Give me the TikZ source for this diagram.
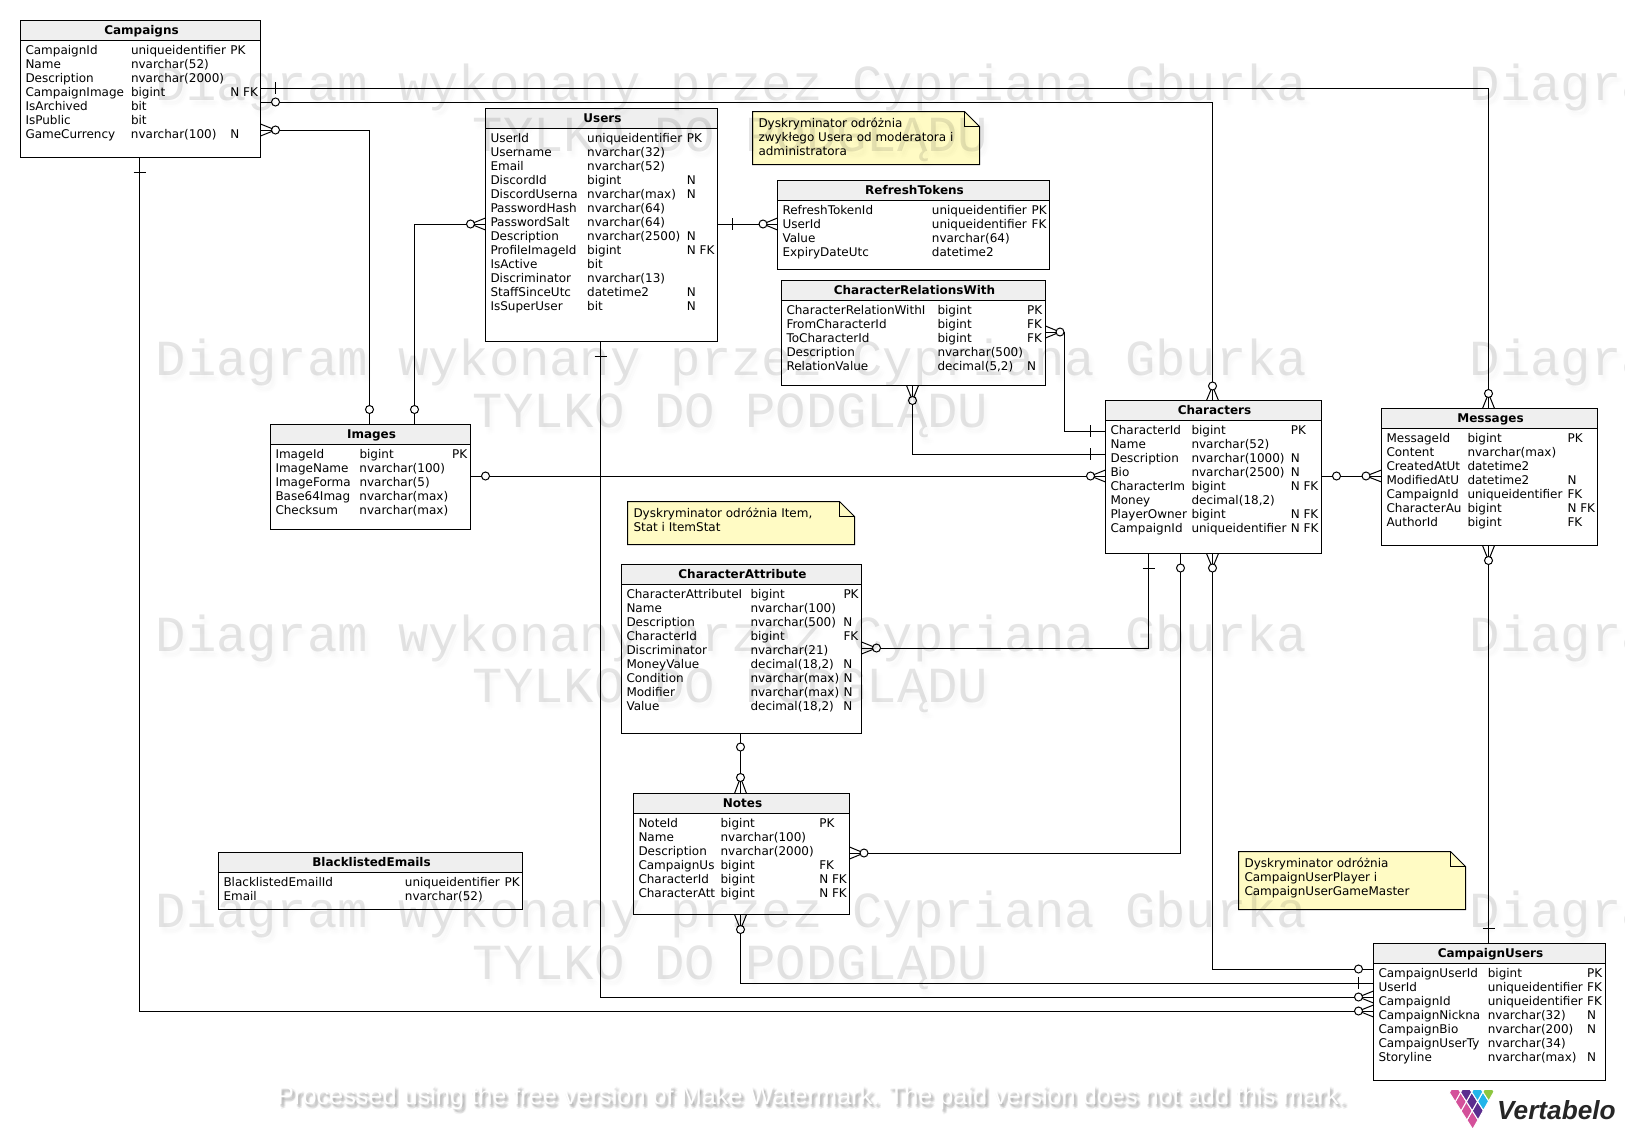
\documentclass[tikz,border=0pt]{standalone}
\usepackage{fontspec}
\usepackage{array}
\setmainfont{DejaVu Sans}
\newfontfamily\wmfont{Liberation Mono}
\newfontfamily\plainfont{Liberation Sans}
\usetikzlibrary{positioning, calc}
\definecolor{headgray}{HTML}{EFEFEF}
\definecolor{noteyellow}{HTML}{FFFBC4}
\definecolor{logopink}{HTML}{D4509A}
\definecolor{logopurple}{HTML}{5B2D8E}
\definecolor{logoblue}{HTML}{23B5EA}
\definecolor{logogreen}{HTML}{8DC63F}
\tikzset{
	tablebox/.style={draw, fill=white, line width=1pt, anchor=north west, outer sep=0pt, inner sep=0pt},
	tablehead/.style={draw, fill=headgray, line width=1pt, anchor=north west, outer sep=0pt, inner sep=0pt, minimum height=20pt, text height=9.5pt, text depth=1.5pt, font=\fontsize{12}{14}\selectfont\bfseries},
	tablerows/.style={anchor=north west, inner sep=0pt, outer sep=0pt, font=\fontsize{12}{14}\selectfont},
	notebox/.style={anchor=north west, inner sep=0pt, outer sep=0pt},
	conn/.style={line width=1pt},
	ringmark/.style={circle, draw, fill=white, line width=1pt, inner sep=0pt, outer sep=0pt, minimum size=8pt},
	wmark/.style={anchor=base west, inner sep=0pt, font=\fontsize{50.5}{56}\wmfont},
	freemark/.style={anchor=base west, inner sep=0pt, font=\fontsize{25.3}{28}\plainfont}
}
% name, left, top, width, height, first column, second column, title, rows
\newcommand{\dbtable}[9]{
	\node[tablebox, minimum width=#4pt, minimum height=#5pt] (#1) at (#2,#3) {};
	\node[tablehead, minimum width=#4pt] (#1head) at (#1.north west) {\hspace{2pt}#8};
	\node[tablerows] (#1rows) at ($(#1.north west)+(5,24.6)$) {\begin{tabular}{@{}p{#6pt}@{}p{#7pt}@{}l@{}}#9\end{tabular}};
}
% name, left, top, width, height, text
\newcommand{\dbnote}[6]{
	\node[notebox, minimum width=#4pt, minimum height=#5pt] (#1) at (#2,#3) {};
	\draw[fill=noteyellow, line width=1pt] (#1.north west) -- ($(#1.north east)+(-15,0)$) -- ($(#1.north east)+(0,15)$) -- (#1.south east) -- (#1.south west) -- cycle;
	\draw[line width=1pt] ($(#1.north east)+(-15,0)$) -- ($(#1.north east)+(-15,15)$) -- ($(#1.north east)+(0,15)$);
	\node[tablerows] (#1text) at ($(#1.north west)+(6,6.6)$) {\begin{tabular}{@{}l@{}}#6\end{tabular}};
}
\begin{document}
\begin{tikzpicture}[x=1pt, y=-1pt]
	\useasboundingbox (0,0) rectangle (1625,1140);

	\dbtable{campaigns}{20.5}{20.5}{240}{137}{105.5}{99.4}{Campaigns}{
		CampaignId & uniqueidentifier & PK\\
		Name & nvarchar(52) & \\
		Description & nvarchar(2000) & \\
		CampaignImage & bigint & N FK\\
		IsArchived & bit & \\
		IsPublic & bit & \\
		GameCurrency & nvarchar(100) & N\\}
	\dbtable{users}{485.5}{108.5}{232}{233}{96.7}{99.7}{Users}{
		UserId & uniqueidentifier & PK\\
		Username & nvarchar(32) & \\
		Email & nvarchar(52) & \\
		DiscordId & bigint & N\\
		DiscordUserna & nvarchar(max) & N\\
		PasswordHash & nvarchar(64) & \\
		PasswordSalt & nvarchar(64) & \\
		Description & nvarchar(2500) & N\\
		ProfileImageId & bigint & N FK\\
		IsActive & bit & \\
		Discriminator & nvarchar(13) & \\
		StaffSinceUtc & datetime2 & N\\
		IsSuperUser & bit & N\\}
	\dbtable{refresh}{777.5}{180.5}{272}{89}{149.4}{99.7}{RefreshTokens}{
		RefreshTokenId & uniqueidentifier & PK\\
		UserId & uniqueidentifier & FK\\
		Value & nvarchar(64) & \\
		ExpiryDateUtc & datetime2 & \\}
	\dbtable{relations}{781.5}{280.5}{264}{105}{151}{89.7}{CharacterRelationsWith}{
		CharacterRelationWithI & bigint & PK\\
		FromCharacterId & bigint & FK\\
		ToCharacterId & bigint & FK\\
		Description & nvarchar(500) & \\
		RelationValue & decimal(5,2) & N\\}
	\dbtable{images}{270.5}{424.5}{200}{105}{84}{92.7}{Images}{
		ImageId & bigint & PK\\
		ImageName & nvarchar(100) & \\
		ImageForma & nvarchar(5) & \\
		Base64Imag & nvarchar(max) & \\
		Checksum & nvarchar(max) & \\}
	\dbtable{characters}{1105.5}{400.5}{216}{153}{81}{99.3}{Characters}{
		CharacterId & bigint & PK\\
		Name & nvarchar(52) & \\
		Description & nvarchar(1000) & N\\
		Bio & nvarchar(2500) & N\\
		CharacterIm & bigint & N FK\\
		Money & decimal(18,2) & \\
		PlayerOwner & bigint & N FK\\
		CampaignId & uniqueidentifier & N FK\\}
	\dbtable{messages}{1381.5}{408.5}{216}{137}{81}{100}{Messages}{
		MessageId & bigint & PK\\
		Content & nvarchar(max) & \\
		CreatedAtUt & datetime2 & \\
		ModifiedAtU & datetime2 & N\\
		CampaignId & uniqueidentifier & FK\\
		CharacterAu & bigint & N FK\\
		AuthorId & bigint & FK\\}
	\dbtable{attribute}{621.5}{564.5}{240}{169}{124}{93}{CharacterAttribute}{
		CharacterAttributeI & bigint & PK\\
		Name & nvarchar(100) & \\
		Description & nvarchar(500) & N\\
		CharacterId & bigint & FK\\
		Discriminator & nvarchar(21) & \\
		MoneyValue & decimal(18,2) & N\\
		Condition & nvarchar(max) & N\\
		Modifier & nvarchar(max) & N\\
		Value & decimal(18,2) & N\\}
	\dbtable{notes}{633.5}{793.5}{216}{121}{82.1}{98.7}{Notes}{
		NoteId & bigint & PK\\
		Name & nvarchar(100) & \\
		Description & nvarchar(2000) & \\
		CampaignUs & bigint & FK\\
		CharacterId & bigint & N FK\\
		CharacterAtt & bigint & N FK\\}
	\dbtable{blacklisted}{218.5}{852.5}{304}{57}{181.4}{99.6}{BlacklistedEmails}{
		BlacklistedEmailId & uniqueidentifier & PK\\
		Email & nvarchar(52) & \\}
	\dbtable{campaignusers}{1373.5}{943.5}{232}{137}{109.3}{99.4}{CampaignUsers}{
		CampaignUserId & bigint & PK\\
		UserId & uniqueidentifier & FK\\
		CampaignId & uniqueidentifier & FK\\
		CampaignNickna & nvarchar(32) & N\\
		CampaignBio & nvarchar(200) & N\\
		CampaignUserTy & nvarchar(34) & \\
		Storyline & nvarchar(max) & N\\}

	\dbnote{noteusers}{752.5}{111.5}{227}{53}{Dyskryminator odróżnia\\zwykłego Usera od moderatora i\\administratora}
	\dbnote{noteitems}{627.5}{501.5}{227}{43}{Dyskryminator odróżnia Item,\\Stat i ItemStat}
	\dbnote{noteplayers}{1238.5}{851.5}{227}{58}{Dyskryminator odróżnia\\CampaignUserPlayer i\\CampaignUserGameMaster}

	% connectors
	\draw[conn] (campaigns.east |- 0,88) -| (1488.5,0 |- messages.north);
	\draw[conn] (campaigns.east |- 0,102) -| (1212.5,0 |- characters.north);
	\draw[conn] (campaigns.east |- 0,130) -| (369.5,0 |- images.north);
	\draw[conn] (users.west |- 0,224) -| (414.5,0 |- images.north);
	\draw[conn] (users.east |- 0,224) -- (refresh.west |- 0,224);
	\draw[conn] (relations.east |- 0,332) -| (1064.5,431) -- (characters.west |- 0,431);
	\draw[conn] (912.5,0 |- relations.south) |- (characters.west |- 0,454);
	\draw[conn] (images.east |- 0,476) -- (characters.west |- 0,476);
	\draw[conn] (characters.east |- 0,476) -- (messages.west |- 0,476);
	\draw[conn] (1148.5,0 |- characters.south) |- (attribute.east |- 0,648);
	\draw[conn] (1180.5,0 |- characters.south) |- (notes.east |- 0,853);
	\draw[conn] (1212.5,0 |- characters.south) |- (campaignusers.west |- 0,969);
	\draw[conn] (1488.5,0 |- messages.south) -- (1488.5,0 |- campaignusers.north);
	\draw[conn] (740.5,0 |- attribute.south) -- (740.5,0 |- notes.north);
	\draw[conn] (740.5,0 |- notes.south) |- (campaignusers.west |- 0,983);
	\draw[conn] (600.5,0 |- users.south) |- (campaignusers.west |- 0,997);
	\draw[conn] (139.5,0 |- campaigns.south) |- (campaignusers.west |- 0,1011);

	% crow's feet
	\foreach \px/\py/\edge in {275.5/130/campaigns.east, 470.5/224/users.west, 763/224/refresh.west, 1060/332/relations.east, 1090.5/476/characters.west, 1366/476/messages.west, 876.5/648/attribute.east, 864/853/notes.east, 1358.5/997/campaignusers.west, 1358.5/1011/campaignusers.west}
		\draw[conn] (\edge |- 0,\py-6) -- (\px,\py) -- (\edge |- 0,\py+6);
	\foreach \px/\py/\edge in {912.5/400.5/relations.south, 1212.5/386/characters.north, 1488.5/393.5/messages.north, 1212.5/568/characters.south, 1488.5/560.5/messages.south, 740.5/777.5/notes.north, 740.5/929.5/notes.south}
		\draw[conn] (\px-6,0 |- \edge) -- (\px,\py) -- (\px+6,0 |- \edge);

	% rings
	\foreach \px/\py [count=\i] in {275.5/102, 275.5/130, 369.5/409.5, 414.5/409.5, 470.5/224, 763/224, 1060/332, 912.5/400.5, 1212.5/386, 1488.5/393.5, 485.5/476, 1090.5/476, 1336.5/476, 1366/476, 1180.5/568, 1212.5/568, 1488.5/560.5, 876.5/648, 740.5/747, 740.5/777.5, 864/853, 740.5/929.5, 1358.5/969, 1358.5/997, 1358.5/1011}
		\node[ringmark] (ring\i) at (\px,\py) {};

	% ticks
	\foreach \px/\py in {275.5/88, 732.5/224, 1090.5/431, 1090.5/454, 1358.5/983}
		\draw[conn] (\px,\py-6) -- (\px,\py+6);
	\foreach \px/\py in {139.5/172.5, 600.5/356.5, 1148.5/568, 1488.5/928.5}
		\draw[conn] (\px-6,\py) -- (\px+6,\py);

	% logo
	\begin{scope}
		\clip (1449,1090) rectangle (1495,1130);
		\begin{scope}[shift={(1472.7,1129.3)}, x={(-5.83pt,9.17pt)}, y={(5.33pt,9.42pt)}]
			\foreach \ci/\cj/\col in {0/0/logopink, 1/0/logopink, 2/0/logopink, 3/0/logopink, 0/1/logopurple, 1/1/logopurple, 2/1/logopurple, 0/2/logoblue, 1/2/logoblue, 0/3/logogreen}
				\draw[fill=\col, draw=white, line width=1pt] (\ci,\cj) -- (\ci+1,\cj) -- (\ci+1,\cj+1) -- (\ci,\cj+1) -- cycle;
		\end{scope}
	\end{scope}
	\node[anchor=base west, inner sep=0pt, text=black!85, font=\fontsize{26.2}{30}\plainfont\bfseries\itshape] (logotext) at (1497,1119.5) {Vertabelo};

	% watermarks
	\begin{scope}
		\clip (0,0) rectangle (1625,1140);
		\foreach \ypos [count=\i] in {100, 375.5, 651.3, 927.6} {
			\foreach \dx/\dy [count=\j] in {1/3, 3/3, 5/4, 2/5, 4/6, 6/6, 1/7, 3/8} {
				\node[wmark, opacity=0.0035] (shada\i\j) at (155.5+\dx,\ypos+\dy) {Diagram wykonany przez Cypriana Gburka};
				\node[wmark, opacity=0.0035] (shadb\i\j) at (1469.6+\dx,\ypos+\dy) {Diagram wykonany przez Cypriana Gburka};
				\node[wmark, opacity=0.0035] (shadc\i\j) at (472.6+\dx,\ypos+51.5+\dy) {TYLKO DO PODGLĄDU};
			}
			\node[wmark, opacity=0.1] (wma\i) at (155.5,\ypos) {Diagram wykonany przez Cypriana Gburka};
			\node[wmark, opacity=0.1] (wmb\i) at (1469.6,\ypos) {Diagram wykonany przez Cypriana Gburka};
			\node[wmark, opacity=0.1] (wmc\i) at (472.6,\ypos+51.5) {TYLKO DO PODGLĄDU};
		}
	\end{scope}
	\foreach \dx/\dy [count=\j] in {1/2, 2/3, 3/3, 2/1, 3/4, 1/3, 4/4, 2/5, 4/2}
		\node[freemark, opacity=0.045] (freeshad\j) at (277+\dx,1104.3+\dy) {Processed using the free version of Make Watermark. The paid version does not add this mark.};
	\node[freemark, text=white] (freenote) at (277,1104.3) {Processed using the free version of Make Watermark. The paid version does not add this mark.};
\end{tikzpicture}
\end{document}
